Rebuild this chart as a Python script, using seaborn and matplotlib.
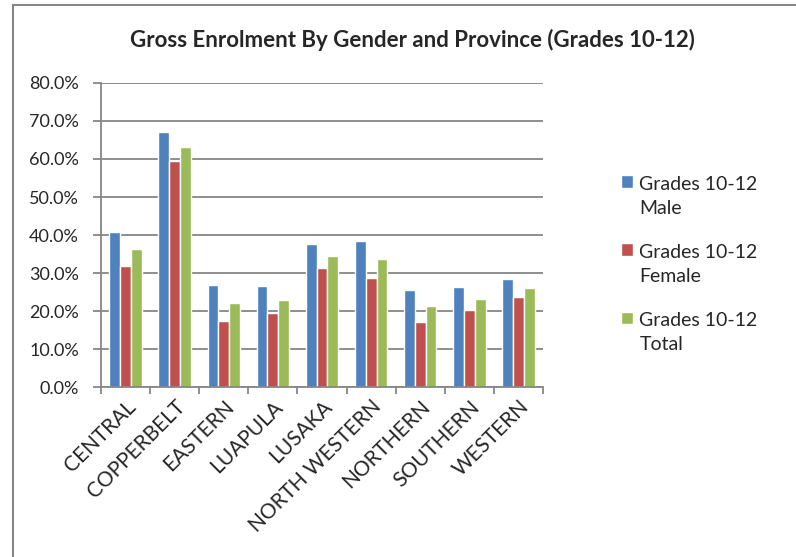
import numpy as np
import pandas as pd
import matplotlib
matplotlib.use('Agg')
import matplotlib.pyplot as plt
import seaborn as sns
from matplotlib.patches import Rectangle
from matplotlib.ticker import PercentFormatter, FixedLocator

# data (percent)
provinces = ['CENTRAL', 'COPPERBELT', 'EASTERN', 'LUAPULA', 'LUSAKA',
             'NORTH WESTERN', 'NORTHERN', 'SOUTHERN', 'WESTERN']
male = [40.7, 67.1, 26.8, 26.6, 37.6, 38.4, 25.6, 26.2, 28.3]
female = [31.9, 59.5, 17.5, 19.4, 31.3, 28.8, 17.1, 20.2, 23.7]
total = [36.3, 63.2, 22.2, 23.0, 34.4, 33.6, 21.4, 23.1, 26.0]
series = ['Grades 10-12\nMale', 'Grades 10-12\nFemale', 'Grades 10-12\nTotal']
colors = ['#4F81BD', '#C0504D', '#9BBB59']

rows = []
for s, vals in zip(series, [male, female, total]):
    for p, v in zip(provinces, vals):
        rows.append({'Province': p, 'Series': s, 'Value': v})
df = pd.DataFrame(rows)

sns.set_style('white')
plt.rcParams['font.family'] = ['Lato', 'DejaVu Sans']

fig = plt.figure(figsize=(7.96, 5.57), dpi=100)
ax = fig.add_axes([101 / 796, 1 - 387 / 557, (543 - 101) / 796, (387 - 83) / 557])

grey = '#868686'
sns.barplot(data=df, x='Province', y='Value', hue='Series', palette=colors,
            width=0.66, saturation=1, ax=ax, legend=True)

ax.set_ylim(0, 80)
ax.set_xlim(-0.5, len(provinces) - 0.5)
ax.yaxis.set_major_locator(FixedLocator(np.arange(0, 81, 10)))
ax.yaxis.set_major_formatter(PercentFormatter(decimals=1))
ax.yaxis.grid(True, color=grey, linewidth=1.3)
ax.set_axisbelow(True)
ax.set_xlabel('')
ax.set_ylabel('')

for side in ['top', 'right']:
    ax.spines[side].set_visible(False)
for side in ['left', 'bottom']:
    ax.spines[side].set_color(grey)
    ax.spines[side].set_linewidth(1.3)

ax.tick_params(axis='y', length=6, color=grey, width=1.3, labelsize=13, pad=10, left=True)
ax.set_xticks(np.arange(-0.5, len(provinces), 1), minor=True)
ax.tick_params(axis='x', which='minor', length=5, color=grey, width=1.3, bottom=True)
ax.tick_params(axis='x', which='major', length=0, labelsize=15, pad=7)
plt.setp(ax.get_xticklabels(), rotation=45, ha='right', rotation_mode='anchor')

ax.legend_.remove()
handles, labels = ax.get_legend_handles_labels()
leg = fig.legend(handles, labels, loc='upper left', bbox_to_anchor=(621 / 796, 1 - 176 / 557),
                 frameon=False, fontsize=14, handlelength=0.6, handleheight=0.6,
                 handletextpad=0.35, labelspacing=1.4, borderpad=0, borderaxespad=0)
for t in leg.get_texts():
    t.set_linespacing(1.5)
# the reference puts each colour square beside the first line of its label
for p in leg.get_patches():
    p.set_y(p.get_y() + 11)

fig.text(412 / 796, 1 - 40 / 557, 'Gross Enrolment By Gender and Province (Grades 10-12)',
         ha='center', va='center', fontsize=16, fontweight='bold')

# outer chart frame (right and bottom edges fall outside the picture)
fig.patches.append(Rectangle((13 / 796, -0.1), 1.2, 1 - 5 / 557 + 0.1,
                             transform=fig.transFigure, fill=False,
                             edgecolor=grey, linewidth=1.5))

fig.savefig('out.png', dpi=100)
